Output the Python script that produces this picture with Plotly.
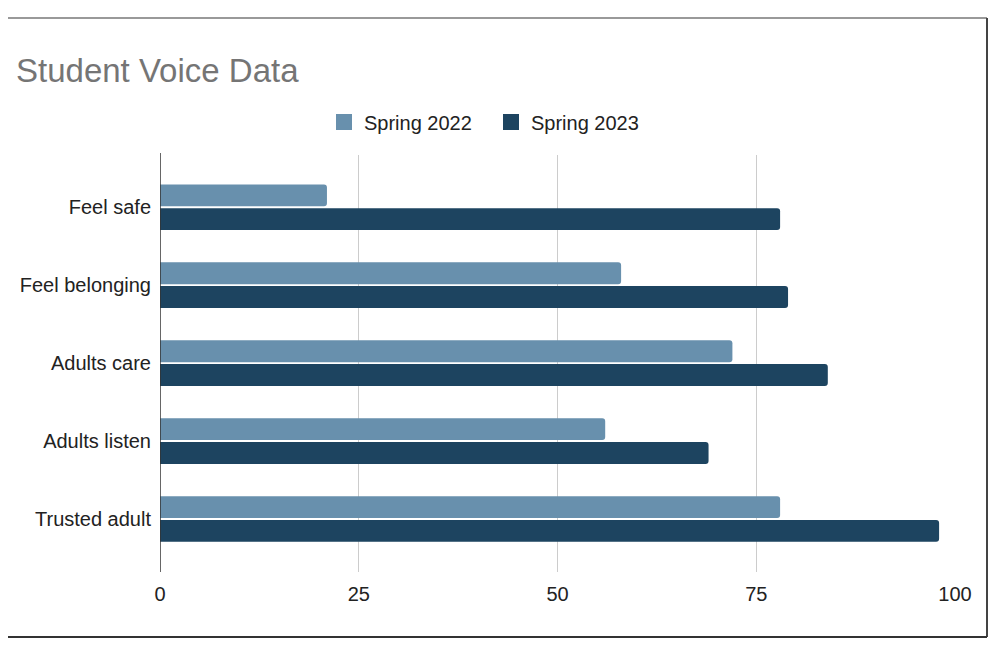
import plotly.graph_objects as go

categories = ["Feel safe", "Feel belonging", "Adults care", "Adults listen", "Trusted adult"]
spring_2022 = [21, 58, 72, 56, 78]
spring_2023 = [78, 79, 84, 69, 98]
x_ticks = [0, 25, 50, 75, 100]
series_names = ["Spring 2022", "Spring 2023"]
series_colors = ["#6890ad", "#1d4460"]

W, H = 998, 652
OFF = 8  # page body margin offset
L, R, T, B = 160, 43, 155, 80
pw, ph = W - L - R, H - T - B

def px(x):
    return (x - L) / pw

def py(y):
    return (H - B - y) / ph

fig = go.Figure()
for name, vals, col in zip(series_names, [spring_2022, spring_2023], series_colors):
    fig.add_trace(go.Bar(y=categories, x=vals, orientation="h", name=name,
                         marker=dict(color=col, line=dict(width=0)), showlegend=False))
for name, col in zip(series_names, series_colors):
    fig.add_trace(go.Scatter(x=[None], y=[None], mode="markers", name=name,
                             marker=dict(symbol="square", size=20, color=col)))

fig.update_layout(
    width=W, height=H,
    margin=dict(l=L - OFF, r=R + OFF, t=T - OFF, b=B + OFF, autoexpand=False),
    paper_bgcolor="white", plot_bgcolor="white",
    barmode="group", bargap=0.39, bargroupgap=0.08, barcornerradius=3,
    font=dict(family="Liberation Sans, Arial, sans-serif", size=20, color="#222222"),
    title=dict(text="Student Voice Data", xref="container", x=(16 - OFF) / W, xanchor="left",
               yref="container", y=1 - (70 - OFF) / H, yanchor="middle",
               font=dict(size=33, color="#757575")),
    legend=dict(orientation="h", x=px(491), xanchor="center", y=py(122), yanchor="middle",
                font=dict(size=20, color="#222222"), traceorder="normal", itemwidth=30,
                entrywidth=122, entrywidthmode="pixels"),
    xaxis=dict(range=[0, 100], tickvals=x_ticks, ticktext=[str(v) for v in x_ticks],
               showgrid=True, gridcolor="#cccccc", gridwidth=1, zeroline=False,
               showline=False, ticks="", tickfont=dict(size=20, color="#222222"), ticklabelstandoff=8),
    yaxis=dict(type="category", categoryorder="array", categoryarray=categories,
               range=[4.68, -0.67], showgrid=False, zeroline=False, ticks="",
               tickfont=dict(size=20, color="#222222"), ticklabelstandoff=8),
    showlegend=True,
)

# axis line at zero
fig.add_shape(type="line", xref="x", yref="paper", x0=0, x1=0, y0=py(572), y1=py(153),
              line=dict(color="#333333", width=1.5))
# outer border
fig.add_shape(type="line", xref="paper", yref="paper", x0=px(0), x1=px(987), y0=py(18), y1=py(18),
              line=dict(color="#999999", width=2))
fig.add_shape(type="line", xref="paper", yref="paper", x0=px(987), x1=px(987), y0=py(18), y1=py(637),
              line=dict(color="#444444", width=2))
fig.add_shape(type="line", xref="paper", yref="paper", x0=px(0), x1=px(987), y0=py(637), y1=py(637),
              line=dict(color="#333333", width=2))

fig.write_html("out.html")
